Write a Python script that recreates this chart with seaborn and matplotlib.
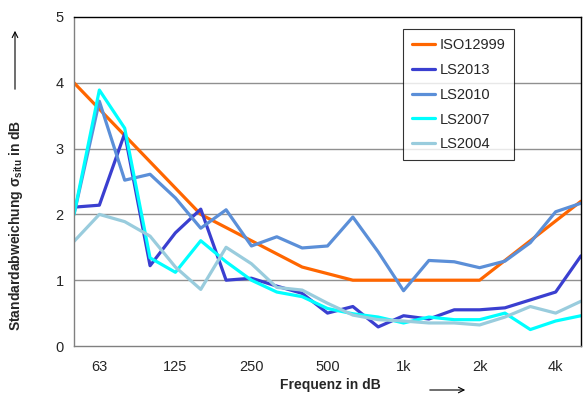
import numpy as np
import pandas as pd
import seaborn as sns
import matplotlib.pyplot as plt

bands = ['50', '63', '80', '100', '125', '160', '200', '250', '315', '400', '500',
         '630', '800', '1k', '1.25k', '1.6k', '2k', '2.5k', '3.15k', '4k', '5k']
tick_labels = {1: '63', 4: '125', 7: '250', 10: '500', 13: '1k', 16: '2k', 19: '4k'}

iso12999 = [4.0, 3.6, 3.2, 2.8, 2.4, 2.0, 1.8, 1.6, 1.4, 1.2, 1.1,
            1.0, 1.0, 1.0, 1.0, 1.0, 1.0, 1.3, 1.6, 1.9, 2.2]
ls2013 = [2.11, 2.14, 3.23, 1.22, 1.72, 2.08, 1.0, 1.03, 0.91, 0.8, 0.5,
          0.6, 0.29, 0.46, 0.41, 0.55, 0.55, 0.58, 0.7, 0.82, 1.37]
ls2010 = [2.0, 3.72, 2.52, 2.61, 2.25, 1.79, 2.07, 1.52, 1.66, 1.49, 1.52,
          1.96, 1.43, 0.84, 1.3, 1.28, 1.19, 1.29, 1.57, 2.04, 2.17]
ls2007 = [2.0, 3.89, 3.31, 1.34, 1.12, 1.6, 1.28, 1.0, 0.82, 0.75, 0.57,
          0.49, 0.44, 0.35, 0.44, 0.4, 0.4, 0.5, 0.25, 0.38, 0.46]
ls2004 = [1.59, 2.0, 1.89, 1.67, 1.2, 0.86, 1.5, 1.25, 0.89, 0.85, 0.65,
          0.47, 0.4, 0.38, 0.35, 0.35, 0.32, 0.44, 0.6, 0.5, 0.68]

series = {'ISO12999': iso12999, 'LS2013': ls2013, 'LS2010': ls2010,
          'LS2007': ls2007, 'LS2004': ls2004}
colors = ['#ff6600', '#3a3fd0', '#5b8fd8', '#00ffff', '#99ccdd']

rows = []
for name, vals in series.items():
    for i, v in enumerate(vals):
        rows.append({'pos': i, 'Band': bands[i], 'Serie': name, 'sigma': v})
df = pd.DataFrame(rows)

sns.set_style('white')
plt.rcParams['font.family'] = ['Liberation Sans', 'DejaVu Sans']

fig = plt.figure(figsize=(5.83, 3.99), dpi=100)
W, H = 583, 399
ax = fig.add_axes([74 / W, 1 - 346 / H, (581 - 74) / W, (346 - 17) / H])

sns.lineplot(data=df, x='pos', y='sigma', hue='Serie', palette=colors,
             linewidth=2.3, ax=ax, legend=True)

ax.set_xlim(0, len(bands) - 1)
ax.set_ylim(0, 5)
ax.set_yticks(range(6))
ax.set_xticks(range(len(bands)))
ax.set_xticklabels([tick_labels.get(i, '') for i in range(len(bands))])
ax.tick_params(axis='both', direction='out', length=4, color='#808080',
               labelsize=10.5, width=0.8)
ax.tick_params(axis='x', pad=6)
for y in range(1, 5):
    ax.axhline(y, color='#909090', lw=1, zorder=0)
for side in ['left', 'bottom']:
    ax.spines[side].set_color('#808080')
for side in ['top', 'right']:
    ax.spines[side].set_color('black')
for s in ax.spines.values():
    s.set_linewidth(1)

ax.set_xlabel('')
ax.set_ylabel('')
fig.text(330 / W, 1 - 385 / H, 'Frequenz in dB', fontsize=10, fontweight='bold',
         ha='center', va='center')
fig.text(16 / W, 1 - 225 / H, r'Standardabweichung σ$_\mathregular{situ}$ in dB',
         fontsize=10, fontweight='bold', rotation=90, ha='center', va='center')
ax.annotate('', xy=(468 / W, 1 - 390 / H), xytext=(427 / W, 1 - 390 / H),
            xycoords='figure fraction', textcoords='figure fraction',
            arrowprops=dict(arrowstyle='->', lw=0.8, color='black'))
ax.annotate('', xy=(15 / W, 1 - 28 / H), xytext=(15 / W, 1 - 92 / H),
            xycoords='figure fraction', textcoords='figure fraction',
            arrowprops=dict(arrowstyle='->', lw=0.8, color='black'))

leg = ax.legend(loc='upper left', bbox_to_anchor=((403 - 74) / (581 - 74), 1 - 12 / 329),
                frameon=True, fancybox=False, edgecolor='black', fontsize=10.5,
                handlelength=1.6, handletextpad=0.3, labelspacing=0.75,
                borderpad=0.6, borderaxespad=0, title=None)
leg.get_frame().set_linewidth(0.8)

fig.savefig('out.png', dpi=100)
